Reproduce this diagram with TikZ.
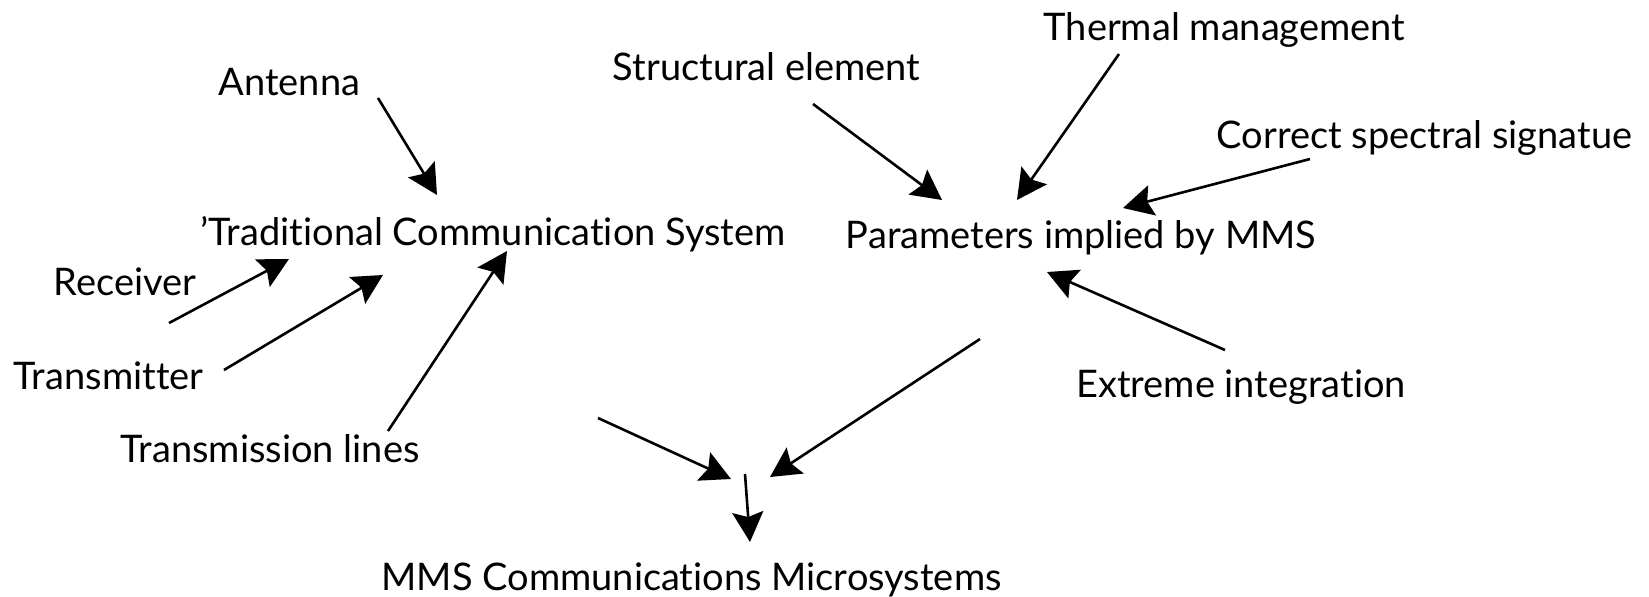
\documentclass[tikz,border=0pt]{standalone}
\usepackage{fontspec}
\setmainfont{Lato}[Ligatures=NoCommon]
\usetikzlibrary{arrows.meta}

\begin{document}
\begin{tikzpicture}[x=0.5pt, y=-0.5pt,
    lbl/.style={anchor=base, inner sep=0pt, font=\fontsize{19}{23}\selectfont},
    arr/.style={-{Stealth[length=15pt, width=15.5pt, inset=2.5pt]}, line width=1.3pt}]
  \useasboundingbox (0,0) rectangle (1649,596);

  % left group
  \node[lbl] (antenna) at (289.5, 95){Antenna};
  \node[lbl] (tcs) at (493, 245){'Traditional Communication System};
  \node[lbl] (receiver) at (125, 295){Receiver};
  \node[lbl] (transmitter) at (108.5, 389){Transmitter};
  \node[lbl] (tlines) at (270, 462){Transmission lines};

  % right group
  \node[lbl] (structural) at (766.5, 80){Structural element};
  \node[lbl] (thermal) at (1224.5, 40){Thermal management};
  \node[lbl] (correct) at (1424.5, 148){Correct spectral signatue};
  \node[lbl] (params) at (1081, 248){Parameters implied by MMS};
  \node[lbl] (extreme) at (1241, 397){Extreme integration};

  \node[lbl] (mms) at (691.5, 590){MMS Communications Microsystems};

  % arrow ends
  \coordinate (antenna-out) at (378, 98);
  \coordinate (tcs-in1) at (437, 195);
  \coordinate (receiver-out) at (169, 323);
  \coordinate (tcs-in2) at (289, 259);
  \coordinate (transmitter-out) at (224, 370);
  \coordinate (tcs-in3) at (383, 275);
  \coordinate (tlines-out) at (388, 431);
  \coordinate (tcs-in4) at (507, 251);

  \coordinate (structural-out) at (813, 104);
  \coordinate (params-in1) at (942, 200);
  \coordinate (thermal-out) at (1119, 54);
  \coordinate (params-in2) at (1017, 200);
  \coordinate (correct-out) at (1310, 159);
  \coordinate (params-in3) at (1123, 208);
  \coordinate (extreme-out) at (1225, 350);
  \coordinate (params-in4) at (1047, 272);

  \coordinate (params-out) at (980, 339);
  \coordinate (join-r) at (770, 477);
  \coordinate (tcs-out) at (598, 418);
  \coordinate (join-l) at (731, 479);
  \coordinate (join) at (745, 474);
  \coordinate (mms-in) at (750, 542);

  \draw[arr] (antenna-out) -- (tcs-in1);
  \draw[arr] (receiver-out) -- (tcs-in2);
  \draw[arr] (transmitter-out) -- (tcs-in3);
  \draw[arr] (tlines-out) -- (tcs-in4);

  \draw[arr] (structural-out) -- (params-in1);
  \draw[arr] (thermal-out) -- (params-in2);
  \draw[arr] (correct-out) -- (params-in3);
  \draw[arr] (extreme-out) -- (params-in4);

  \draw[arr] (params-out) -- (join-r);
  \draw[arr] (tcs-out) -- (join-l);
  \draw[arr] (join) -- (mms-in);

\end{tikzpicture}
\end{document}
